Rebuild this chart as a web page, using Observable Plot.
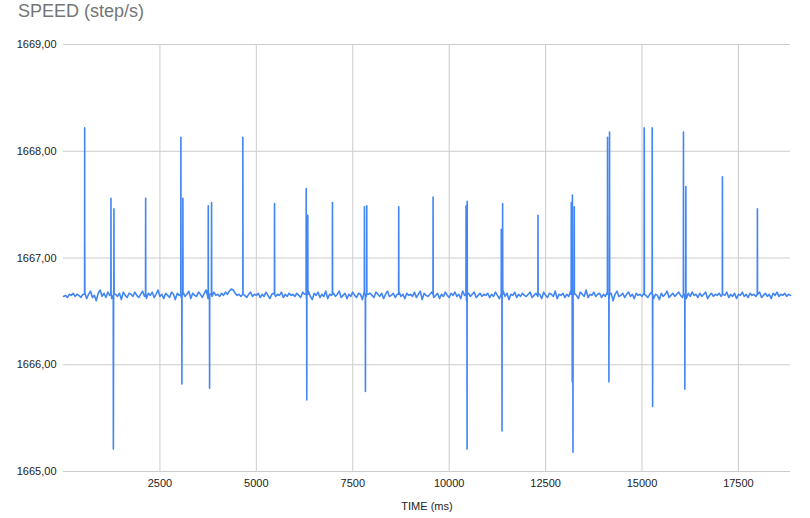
<!DOCTYPE html>
<html>
<head>
<meta charset="utf-8">
<script src="https://cdn.jsdelivr.net/npm/d3@7"></script>
<script src="https://cdn.jsdelivr.net/npm/@observablehq/plot@0.6"></script>
<style>
  html, body { margin: 0; padding: 0; background: #fff; }
  #wrap { position: relative; width: 810px; height: 518px; }
  #title { position: absolute; left: 18px; top: 2px; font: 18px Arial, "Liberation Sans", sans-serif; line-height: 18px; color: #757575; white-space: nowrap; }
  #chart { position: absolute; left: 0; top: 0; }
</style>
</head>
<body>
<div id="wrap">
  <div id="chart"></div>
  <div id="title">SPEED (step/s)</div>
</div>
<script>
// Baseline samples (ms, step/s)
const baseTime = [
0,50,100,150,200,250,300,350,400,450,500,550,600,650,700,750,800,850,900,950,
1000,1050,1100,1150,1200,1250,1300,1350,1400,1450,1500,1550,1600,1650,1700,1750,1800,1850,1900,1950,
2000,2050,2100,2150,2200,2250,2300,2350,2400,2450,2500,2550,2600,2650,2700,2750,2800,2850,2900,2950,
3000,3050,3100,3150,3200,3250,3300,3350,3400,3450,3500,3550,3600,3650,3700,3750,3800,3850,3900,3950,
4000,4050,4100,4150,4200,4250,4300,4350,4400,4450,4500,4550,4600,4650,4700,4750,4800,4850,4900,4950,
5000,5050,5100,5150,5200,5250,5300,5350,5400,5450,5500,5550,5600,5650,5700,5750,5800,5850,5900,5950,
6000,6050,6100,6150,6200,6250,6300,6350,6400,6450,6500,6550,6600,6650,6700,6750,6800,6850,6900,6950,
7000,7050,7100,7150,7200,7250,7300,7350,7400,7450,7500,7550,7600,7650,7700,7750,7800,7850,7900,7950,
8000,8050,8100,8150,8200,8250,8300,8350,8400,8450,8500,8550,8600,8650,8700,8750,8800,8850,8900,8950,
9000,9050,9100,9150,9200,9250,9300,9350,9400,9450,9500,9550,9600,9650,9700,9750,9800,9850,9900,9950,
10000,10050,10100,10150,10200,10250,10300,10350,10400,10450,10500,10550,10600,10650,10700,10750,10800,10850,10900,10950,
11000,11050,11100,11150,11200,11250,11300,11350,11400,11450,11500,11550,11600,11650,11700,11750,11800,11850,11900,11950,
12000,12050,12100,12150,12200,12250,12300,12350,12400,12450,12500,12550,12600,12650,12700,12750,12800,12850,12900,12950,
13000,13050,13100,13150,13200,13250,13300,13350,13400,13450,13500,13550,13600,13650,13700,13750,13800,13850,13900,13950,
14000,14050,14100,14150,14200,14250,14300,14350,14400,14450,14500,14550,14600,14650,14700,14750,14800,14850,14900,14950,
15000,15050,15100,15150,15200,15250,15300,15350,15400,15450,15500,15550,15600,15650,15700,15750,15800,15850,15900,15950,
16000,16050,16100,16150,16200,16250,16300,16350,16400,16450,16500,16550,16600,16650,16700,16750,16800,16850,16900,16950,
17000,17050,17100,17150,17200,17250,17300,17350,17400,17450,17500,17550,17600,17650,17700,17750,17800,17850,17900,17950,
18000,18050,18100,18150,18200,18250,18300,18350,18400,18450,18500,18550,18600,18650,18700,18750,18800,18850
];
const baseSpeed = [
1666.64,1666.65,1666.63,1666.66,1666.65,1666.67,1666.64,1666.66,1666.65,1666.63,1666.66,1666.68,1666.62,1666.66,1666.69,1666.63,1666.65,1666.60,1666.67,1666.70,
1666.64,1666.67,1666.63,1666.68,1666.65,1666.62,1666.69,1666.66,1666.64,1666.67,1666.61,1666.68,1666.65,1666.63,1666.67,1666.66,1666.64,1666.68,1666.65,1666.63,
1666.66,1666.69,1666.64,1666.62,1666.67,1666.65,1666.68,1666.63,1666.66,1666.70,1666.64,1666.66,1666.62,1666.67,1666.65,1666.63,1666.68,1666.66,1666.61,1666.67,
1666.65,1666.63,1666.68,1666.64,1666.66,1666.69,1666.62,1666.67,1666.65,1666.64,1666.68,1666.66,1666.63,1666.67,1666.70,1666.62,1666.66,1666.64,1666.68,1666.65,
1666.66,1666.64,1666.67,1666.65,1666.68,1666.66,1666.69,1666.71,1666.70,1666.67,1666.65,1666.66,1666.64,1666.67,1666.65,1666.63,1666.66,1666.68,1666.64,1666.66,
1666.65,1666.67,1666.63,1666.66,1666.64,1666.68,1666.65,1666.62,1666.66,1666.67,1666.64,1666.66,1666.65,1666.68,1666.63,1666.66,1666.64,1666.67,1666.65,1666.66,
1666.64,1666.67,1666.65,1666.63,1666.68,1666.66,1666.62,1666.69,1666.64,1666.61,1666.67,1666.65,1666.68,1666.63,1666.66,1666.64,1666.69,1666.62,1666.66,1666.65,
1666.67,1666.64,1666.66,1666.69,1666.63,1666.65,1666.67,1666.62,1666.66,1666.64,1666.68,1666.65,1666.63,1666.67,1666.66,1666.61,1666.69,1666.64,1666.66,1666.67,
1666.65,1666.63,1666.68,1666.66,1666.64,1666.67,1666.62,1666.66,1666.69,1666.64,1666.65,1666.67,1666.63,1666.66,1666.68,1666.64,1666.66,1666.62,1666.67,1666.65,
1666.66,1666.64,1666.68,1666.63,1666.66,1666.69,1666.61,1666.67,1666.65,1666.64,1666.66,1666.68,1666.63,1666.65,1666.67,1666.62,1666.66,1666.64,1666.68,1666.65,
1666.63,1666.67,1666.65,1666.68,1666.64,1666.66,1666.62,1666.69,1666.65,1666.60,1666.67,1666.64,1666.66,1666.68,1666.63,1666.65,1666.67,1666.64,1666.66,1666.65,
1666.67,1666.63,1666.66,1666.64,1666.68,1666.65,1666.62,1666.66,1666.69,1666.64,1666.67,1666.61,1666.66,1666.65,1666.68,1666.63,1666.66,1666.64,1666.67,1666.65,
1666.64,1666.66,1666.68,1666.63,1666.65,1666.67,1666.64,1666.66,1666.62,1666.68,1666.65,1666.63,1666.67,1666.66,1666.64,1666.69,1666.62,1666.66,1666.65,1666.67,
1666.63,1666.66,1666.64,1666.69,1666.61,1666.67,1666.65,1666.62,1666.68,1666.66,1666.64,1666.70,1666.63,1666.66,1666.65,1666.68,1666.64,1666.66,1666.67,1666.63,
1666.66,1666.64,1666.68,1666.62,1666.67,1666.60,1666.66,1666.69,1666.64,1666.65,1666.67,1666.63,1666.66,1666.68,1666.64,1666.66,1666.62,1666.67,1666.65,1666.66,
1666.64,1666.67,1666.65,1666.63,1666.66,1666.68,1666.62,1666.66,1666.65,1666.61,1666.67,1666.64,1666.66,1666.69,1666.63,1666.65,1666.67,1666.64,1666.66,1666.68,
1666.65,1666.63,1666.66,1666.62,1666.67,1666.64,1666.68,1666.65,1666.66,1666.63,1666.67,1666.64,1666.66,1666.68,1666.62,1666.65,1666.67,1666.64,1666.66,1666.65,
1666.67,1666.64,1666.66,1666.65,1666.68,1666.63,1666.66,1666.64,1666.67,1666.62,1666.66,1666.65,1666.68,1666.64,1666.66,1666.63,1666.67,1666.65,1666.66,1666.64,
1666.66,1666.68,1666.63,1666.65,1666.67,1666.64,1666.66,1666.62,1666.67,1666.65,1666.68,1666.64,1666.66,1666.65,1666.67,1666.64,1666.66,1666.65
];
// Spike samples (ms, step/s)
const spikeTime = [
546,549,551,554,
1228,1231,1234,1290,1293,1296,1305,1308,1310,1313,
2127,2130,2133,
3041,3044,3047,3067,3070,3073,3093,3096,3099,
3751,3754,3757,3785,3788,3791,3836,3839,3842,
4647,4650,4652,4655,
5469,5472,5475,
6290,6293,6296,6305,6308,6311,6331,6334,6337,
6971,6974,6977,
7800,7803,7806,7826,7829,7832,7860,7863,7866,
8689,8692,8695,
9580,9583,9586,
10435,10438,10441,10461,10464,10467,10470,
11349,11352,11355,11367,11370,11373,11383,11386,11389,
12300,12303,12306,
13163,13166,13169,13189,13192,13195,13198,13207,13210,13213,13241,13244,13247,
14103,14106,14109,14139,14142,14145,14155,14158,14161,
15054,15057,15059,15062,
15261,15264,15267,15272,15275,15278,
16072,16075,16078,16108,16111,16114,16134,16137,16140,
17082,17085,17088,
17989,17992,17995
];
const spikeSpeed = [
1666.66,1668.22,1667.15,1666.67,
1666.66,1667.56,1666.67,1666.65,1665.21,1665.88,1666.66,1667.46,1667.05,1666.66,
1666.66,1667.56,1666.67,
1666.66,1668.13,1666.66,1666.66,1665.82,1666.65,1666.66,1667.56,1666.66,
1666.66,1667.49,1666.66,1666.66,1665.78,1666.66,1666.66,1667.52,1666.66,
1666.66,1668.13,1667.47,1666.66,
1666.66,1667.51,1666.66,
1666.66,1667.65,1666.66,1666.66,1665.67,1666.66,1666.66,1667.40,1666.66,
1666.66,1667.52,1666.66,
1666.66,1667.48,1666.66,1666.66,1665.75,1666.66,1666.66,1667.49,1666.66,
1666.66,1667.48,1666.66,
1666.66,1667.57,1666.66,
1666.66,1667.49,1666.66,1666.66,1665.21,1667.53,1666.66,
1666.66,1667.27,1666.66,1666.66,1665.38,1666.66,1666.66,1667.51,1666.66,
1666.66,1667.40,1666.66,
1666.66,1667.52,1666.66,1666.66,1665.84,1667.59,1666.66,1666.66,1665.18,1666.66,1666.66,1667.48,1666.66,
1666.66,1668.13,1666.66,1666.66,1665.84,1666.66,1666.66,1668.18,1666.66,
1666.66,1668.22,1667.91,1666.66,
1666.66,1668.22,1666.66,1666.66,1665.61,1666.66,
1666.66,1668.18,1666.66,1666.66,1665.77,1666.66,1666.66,1667.67,1666.66,
1666.66,1667.76,1666.66,
1666.66,1667.46,1666.66
];
const xTicks = [2500, 5000, 7500, 10000, 12500, 15000, 17500];
const yTicks = [1665, 1666, 1667, 1668, 1669];

const data = baseTime.map((t, i) => ({time: t, speed: baseSpeed[i]}))
  .concat(spikeTime.map((t, i) => ({time: t, speed: spikeSpeed[i]})))
  .sort((a, b) => a.time - b.time);

const chart = Plot.plot({
  width: 810,
  height: 518,
  marginTop: 44,
  marginLeft: 63,
  marginRight: 20,
  marginBottom: 47,
  style: {fontFamily: "Arial, 'Liberation Sans', sans-serif", fontSize: "11px", color: "#222", background: "#fff"},
  x: {domain: [0, 18850]},
  y: {domain: [1665, 1669]},
  marks: [
    Plot.gridY(yTicks, {stroke: "#cccccc", strokeOpacity: 1}),
    Plot.gridX(xTicks, {stroke: "#cccccc", strokeOpacity: 1}),
    Plot.axisY(yTicks, {tickSize: 0, tickPadding: 7, tickFormat: d => d.toFixed(2).replace(".", ","), label: null}),
    Plot.axisX(xTicks, {tickSize: 0, tickPadding: 8, tickFormat: d => String(d), label: null}),
    Plot.line(data, {x: "time", y: "speed", stroke: "#4285f4", strokeWidth: 1.6}),
    Plot.text(["TIME (ms)"], {frameAnchor: "bottom", dy: 38, fill: "#222", fontSize: 11})
  ]
});
document.getElementById("chart").appendChild(chart);
</script>
</body>
</html>
